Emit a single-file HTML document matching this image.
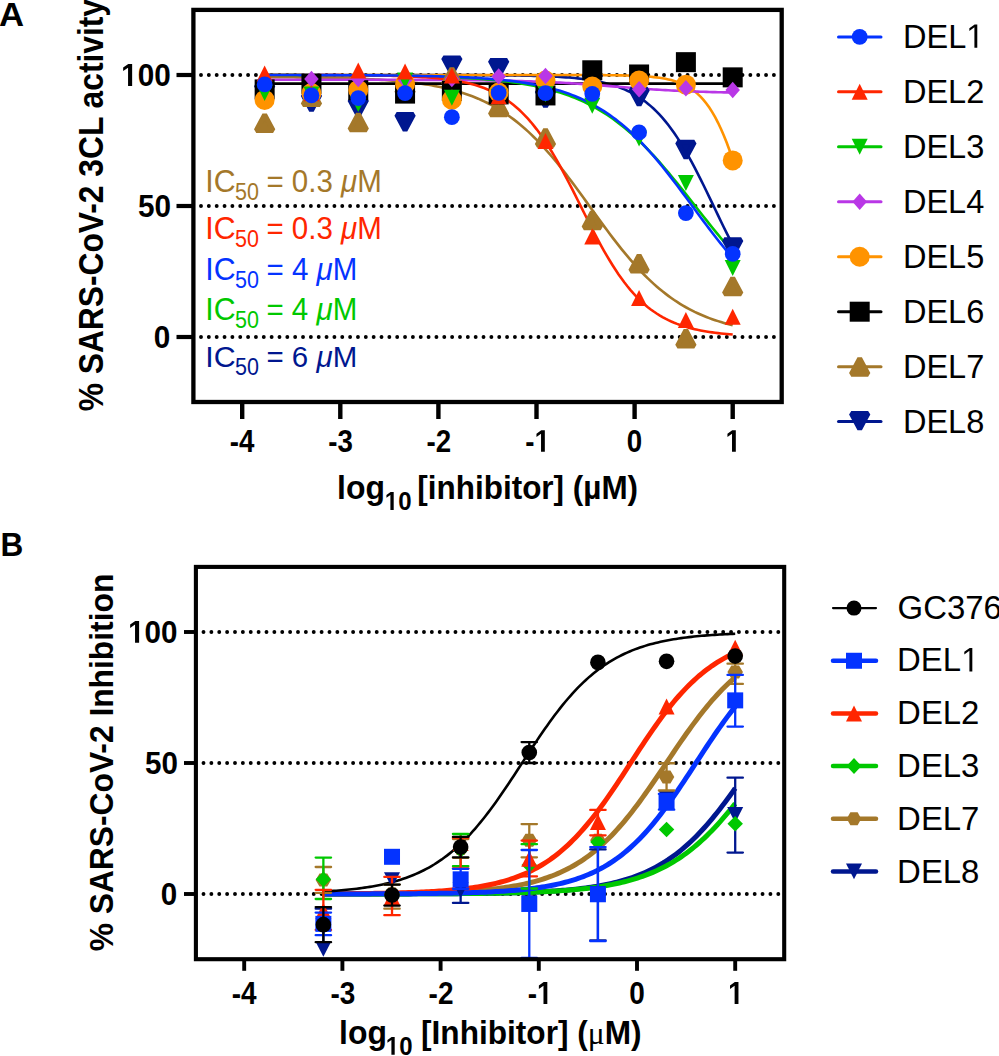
<!DOCTYPE html>
<html><head><meta charset="utf-8"><style>
html,body{margin:0;padding:0;background:#fff;}
body{width:999px;height:1056px;overflow:hidden;}
svg{display:block;}
</style></head><body>
<svg width="999" height="1056" viewBox="0 0 999 1056" font-family="'Liberation Sans', sans-serif">
<rect width="999" height="1056" fill="#fff"/>
<line x1="201" y1="75" x2="775" y2="75" stroke="#000" stroke-width="3.9" stroke-linecap="round" stroke-dasharray="0 7.848"/>
<line x1="201" y1="206" x2="775" y2="206" stroke="#000" stroke-width="3.9" stroke-linecap="round" stroke-dasharray="0 7.848"/>
<line x1="201" y1="337" x2="775" y2="337" stroke="#000" stroke-width="3.9" stroke-linecap="round" stroke-dasharray="0 7.848"/>
<path d="M264.65,75 L267.57,75 L270.5,75 L273.42,75 L276.35,75 L279.27,75 L282.2,75 L285.12,75 L288.05,75 L290.97,75 L293.9,75 L296.82,75 L299.75,75 L302.67,75 L305.6,75 L308.53,75 L311.45,75 L314.38,75 L317.3,75 L320.23,75 L323.15,75 L326.08,75 L329,75 L331.93,75 L334.85,75 L337.78,75 L340.7,75 L343.63,75 L346.55,75 L349.48,75 L352.41,75 L355.33,75 L358.26,75 L361.18,75 L364.11,75 L367.03,75 L369.96,75 L372.88,75 L375.81,75.01 L378.73,75.01 L381.66,75.01 L384.58,75.01 L387.51,75.01 L390.43,75.01 L393.36,75.01 L396.29,75.01 L399.21,75.01 L402.14,75.01 L405.06,75.01 L407.99,75.02 L410.91,75.02 L413.84,75.02 L416.76,75.02 L419.69,75.02 L422.61,75.02 L425.54,75.03 L428.46,75.03 L431.39,75.03 L434.32,75.04 L437.24,75.04 L440.17,75.04 L443.09,75.05 L446.02,75.05 L448.94,75.06 L451.87,75.06 L454.79,75.07 L457.72,75.07 L460.64,75.08 L463.57,75.09 L466.49,75.1 L469.42,75.11 L472.34,75.12 L475.27,75.13 L478.2,75.14 L481.12,75.16 L484.05,75.17 L486.97,75.19 L489.9,75.21 L492.82,75.23 L495.75,75.25 L498.67,75.27 L501.6,75.3 L504.52,75.33 L507.45,75.36 L510.37,75.4 L513.3,75.44 L516.22,75.48 L519.15,75.53 L522.08,75.58 L525,75.64 L527.93,75.7 L530.85,75.77 L533.78,75.84 L536.7,75.92 L539.63,76.01 L542.55,76.11 L545.48,76.22 L548.4,76.34 L551.33,76.47 L554.25,76.61 L557.18,76.77 L560.1,76.94 L563.03,77.13 L565.96,77.33 L568.88,77.56 L571.81,77.81 L574.73,78.08 L577.66,78.38 L580.58,78.7 L583.51,79.06 L586.43,79.45 L589.36,79.88 L592.28,80.34 L595.21,80.86 L598.13,81.41 L601.06,82.03 L603.98,82.69 L606.91,83.42 L609.84,84.22 L612.76,85.09 L615.69,86.03 L618.61,87.06 L621.54,88.18 L624.46,89.4 L627.39,90.73 L630.31,92.16 L633.24,93.72 L636.16,95.41 L639.09,97.24 L642.01,99.22 L644.94,101.35 L647.87,103.65 L650.79,106.12 L653.72,108.77 L656.64,111.62 L659.57,114.66 L662.49,117.9 L665.42,121.36 L668.34,125.03 L671.27,128.92 L674.19,133.03 L677.12,137.36 L680.04,141.9 L682.97,146.66 L685.89,151.62 L688.82,156.78 L691.75,162.13 L694.67,167.64 L697.6,173.3 L700.52,179.1 L703.45,185.01 L706.37,191.01 L709.3,197.08 L712.22,203.18 L715.15,209.3 L718.07,215.4 L721,221.46 L723.92,227.45 L726.85,233.36 L729.77,239.15 L732.7,244.8" fill="none" stroke="#00178f" stroke-width="2.6"/>
<path d="M264.65,77.08 L267.57,77.1 L270.5,77.12 L273.42,77.13 L276.35,77.15 L279.27,77.17 L282.2,77.2 L285.12,77.22 L288.05,77.24 L290.97,77.27 L293.9,77.3 L296.82,77.33 L299.75,77.36 L302.67,77.39 L305.6,77.43 L308.53,77.47 L311.45,77.51 L314.38,77.55 L317.3,77.6 L320.23,77.65 L323.15,77.7 L326.08,77.76 L329,77.82 L331.93,77.88 L334.85,77.95 L337.78,78.02 L340.7,78.09 L343.63,78.17 L346.55,78.26 L349.48,78.35 L352.41,78.45 L355.33,78.55 L358.26,78.66 L361.18,78.78 L364.11,78.9 L367.03,79.04 L369.96,79.18 L372.88,79.33 L375.81,79.48 L378.73,79.65 L381.66,79.83 L384.58,80.02 L387.51,80.23 L390.43,80.44 L393.36,80.67 L396.29,80.92 L399.21,81.17 L402.14,81.45 L405.06,81.74 L407.99,82.05 L410.91,82.38 L413.84,82.73 L416.76,83.1 L419.69,83.5 L422.61,83.91 L425.54,84.36 L428.46,84.83 L431.39,85.32 L434.32,85.85 L437.24,86.41 L440.17,87.01 L443.09,87.64 L446.02,88.3 L448.94,89.01 L451.87,89.75 L454.79,90.54 L457.72,91.38 L460.64,92.26 L463.57,93.19 L466.49,94.17 L469.42,95.21 L472.34,96.31 L475.27,97.47 L478.2,98.68 L481.12,99.97 L484.05,101.32 L486.97,102.74 L489.9,104.23 L492.82,105.8 L495.75,107.45 L498.67,109.18 L501.6,110.99 L504.52,112.89 L507.45,114.87 L510.37,116.95 L513.3,119.12 L516.22,121.38 L519.15,123.73 L522.08,126.18 L525,128.73 L527.93,131.37 L530.85,134.11 L533.78,136.95 L536.7,139.89 L539.63,142.92 L542.55,146.05 L545.48,149.27 L548.4,152.58 L551.33,155.98 L554.25,159.46 L557.18,163.02 L560.1,166.66 L563.03,170.37 L565.96,174.15 L568.88,177.98 L571.81,181.87 L574.73,185.81 L577.66,189.78 L580.58,193.79 L583.51,197.83 L586.43,201.88 L589.36,205.94 L592.28,210 L595.21,214.06 L598.13,218.1 L601.06,222.12 L603.98,226.12 L606.91,230.07 L609.84,233.99 L612.76,237.85 L615.69,241.65 L618.61,245.39 L621.54,249.07 L624.46,252.67 L627.39,256.19 L630.31,259.63 L633.24,262.98 L636.16,266.24 L639.09,269.42 L642.01,272.5 L644.94,275.48 L647.87,278.37 L650.79,281.15 L653.72,283.85 L656.64,286.44 L659.57,288.94 L662.49,291.34 L665.42,293.64 L668.34,295.85 L671.27,297.97 L674.19,300 L677.12,301.94 L680.04,303.79 L682.97,305.56 L685.89,307.25 L688.82,308.85 L691.75,310.38 L694.67,311.84 L697.6,313.22 L700.52,314.54 L703.45,315.79 L706.37,316.98 L709.3,318.1 L712.22,319.17 L715.15,320.18 L718.07,321.13 L721,322.04 L723.92,322.9 L726.85,323.71 L729.77,324.47 L732.7,325.2" fill="none" stroke="#a4782a" stroke-width="2.6"/>
<path d="M264.65,83.65 L267.57,83.65 L270.5,83.65 L273.42,83.65 L276.35,83.65 L279.27,83.65 L282.2,83.65 L285.12,83.65 L288.05,83.65 L290.97,83.65 L293.9,83.65 L296.82,83.65 L299.75,83.65 L302.67,83.65 L305.6,83.65 L308.53,83.65 L311.45,83.65 L314.38,83.65 L317.3,83.65 L320.23,83.65 L323.15,83.65 L326.08,83.65 L329,83.65 L331.93,83.65 L334.85,83.65 L337.78,83.65 L340.7,83.65 L343.63,83.65 L346.55,83.65 L349.48,83.65 L352.41,83.65 L355.33,83.65 L358.26,83.65 L361.18,83.65 L364.11,83.65 L367.03,83.65 L369.96,83.65 L372.88,83.65 L375.81,83.65 L378.73,83.65 L381.66,83.65 L384.58,83.65 L387.51,83.65 L390.43,83.65 L393.36,83.65 L396.29,83.65 L399.21,83.65 L402.14,83.65 L405.06,83.65 L407.99,83.65 L410.91,83.65 L413.84,83.65 L416.76,83.65 L419.69,83.65 L422.61,83.65 L425.54,83.65 L428.46,83.65 L431.39,83.65 L434.32,83.65 L437.24,83.65 L440.17,83.65 L443.09,83.65 L446.02,83.65 L448.94,83.65 L451.87,83.65 L454.79,83.65 L457.72,83.65 L460.64,83.65 L463.57,83.65 L466.49,83.65 L469.42,83.65 L472.34,83.65 L475.27,83.65 L478.2,83.65 L481.12,83.65 L484.05,83.65 L486.97,83.65 L489.9,83.65 L492.82,83.65 L495.75,83.65 L498.67,83.65 L501.6,83.65 L504.52,83.65 L507.45,83.65 L510.37,83.65 L513.3,83.65 L516.22,83.65 L519.15,83.65 L522.08,83.65 L525,83.65 L527.93,83.65 L530.85,83.65 L533.78,83.65 L536.7,83.65 L539.63,83.65 L542.55,83.65 L545.48,83.65 L548.4,83.65 L551.33,83.65 L554.25,83.65 L557.18,83.65 L560.1,83.65 L563.03,83.65 L565.96,83.65 L568.88,83.65 L571.81,83.65 L574.73,83.65 L577.66,83.65 L580.58,83.65 L583.51,83.65 L586.43,83.65 L589.36,83.65 L592.28,83.65 L595.21,83.65 L598.13,83.65 L601.06,83.65 L603.98,83.65 L606.91,83.65 L609.84,83.65 L612.76,83.65 L615.69,83.65 L618.61,83.65 L621.54,83.65 L624.46,83.65 L627.39,83.65 L630.31,83.65 L633.24,83.65 L636.16,83.65 L639.09,83.65 L642.01,83.65 L644.94,83.65 L647.87,83.65 L650.79,83.65 L653.72,83.65 L656.64,83.65 L659.57,83.65 L662.49,83.65 L665.42,83.65 L668.34,83.65 L671.27,83.65 L674.19,83.65 L677.12,83.65 L680.04,83.65 L682.97,83.65 L685.89,83.65 L688.82,83.65 L691.75,83.65 L694.67,83.65 L697.6,83.65 L700.52,83.65 L703.45,83.65 L706.37,83.65 L709.3,83.65 L712.22,83.65 L715.15,83.65 L718.07,83.65 L721,83.65 L723.92,83.65 L726.85,83.65 L729.77,83.65 L732.7,83.65" fill="none" stroke="#000000" stroke-width="2.6"/>
<path d="M264.65,75 L267.57,75 L270.5,75 L273.42,75 L276.35,75 L279.27,75 L282.2,75 L285.12,75 L288.05,75 L290.97,75 L293.9,75 L296.82,75 L299.75,75 L302.67,75 L305.6,75 L308.53,75 L311.45,75 L314.38,75 L317.3,75 L320.23,75 L323.15,75 L326.08,75 L329,75 L331.93,75 L334.85,75 L337.78,75 L340.7,75 L343.63,75 L346.55,75 L349.48,75 L352.41,75 L355.33,75 L358.26,75 L361.18,75 L364.11,75 L367.03,75 L369.96,75 L372.88,75 L375.81,75 L378.73,75 L381.66,75 L384.58,75 L387.51,75 L390.43,75 L393.36,75 L396.29,75 L399.21,75 L402.14,75 L405.06,75 L407.99,75 L410.91,75 L413.84,75 L416.76,75 L419.69,75 L422.61,75 L425.54,75 L428.46,75 L431.39,75 L434.32,75 L437.24,75 L440.17,75 L443.09,75 L446.02,75 L448.94,75 L451.87,75 L454.79,75 L457.72,75 L460.64,75 L463.57,75 L466.49,75 L469.42,75 L472.34,75 L475.27,75 L478.2,75 L481.12,75 L484.05,75 L486.97,75 L489.9,75 L492.82,75 L495.75,75 L498.67,75 L501.6,75 L504.52,75 L507.45,75 L510.37,75 L513.3,75 L516.22,75 L519.15,75 L522.08,75 L525,75 L527.93,75 L530.85,75 L533.78,75 L536.7,75.01 L539.63,75.01 L542.55,75.01 L545.48,75.01 L548.4,75.01 L551.33,75.01 L554.25,75.01 L557.18,75.01 L560.1,75.02 L563.03,75.02 L565.96,75.02 L568.88,75.03 L571.81,75.03 L574.73,75.04 L577.66,75.04 L580.58,75.05 L583.51,75.06 L586.43,75.07 L589.36,75.08 L592.28,75.09 L595.21,75.1 L598.13,75.12 L601.06,75.14 L603.98,75.16 L606.91,75.19 L609.84,75.22 L612.76,75.25 L615.69,75.3 L618.61,75.34 L621.54,75.4 L624.46,75.46 L627.39,75.54 L630.31,75.63 L633.24,75.73 L636.16,75.85 L639.09,75.99 L642.01,76.15 L644.94,76.33 L647.87,76.55 L650.79,76.8 L653.72,77.09 L656.64,77.43 L659.57,77.82 L662.49,78.27 L665.42,78.8 L668.34,79.41 L671.27,80.11 L674.19,80.93 L677.12,81.87 L680.04,82.95 L682.97,84.21 L685.89,85.65 L688.82,87.3 L691.75,89.2 L694.67,91.37 L697.6,93.85 L700.52,96.67 L703.45,99.86 L706.37,103.48 L709.3,107.54 L712.22,112.1 L715.15,117.17 L718.07,122.8 L721,128.99 L723.92,135.75 L726.85,143.08 L729.77,150.96 L732.7,159.36" fill="none" stroke="#ff9300" stroke-width="2.6"/>
<path d="M264.65,79.72 L267.57,79.72 L270.5,79.72 L273.42,79.72 L276.35,79.72 L279.27,79.72 L282.2,79.72 L285.12,79.72 L288.05,79.72 L290.97,79.72 L293.9,79.72 L296.82,79.72 L299.75,79.72 L302.67,79.72 L305.6,79.73 L308.53,79.73 L311.45,79.73 L314.38,79.73 L317.3,79.73 L320.23,79.73 L323.15,79.73 L326.08,79.73 L329,79.73 L331.93,79.73 L334.85,79.73 L337.78,79.74 L340.7,79.74 L343.63,79.74 L346.55,79.74 L349.48,79.74 L352.41,79.74 L355.33,79.75 L358.26,79.75 L361.18,79.75 L364.11,79.75 L367.03,79.76 L369.96,79.76 L372.88,79.76 L375.81,79.77 L378.73,79.77 L381.66,79.77 L384.58,79.78 L387.51,79.78 L390.43,79.79 L393.36,79.79 L396.29,79.8 L399.21,79.8 L402.14,79.81 L405.06,79.81 L407.99,79.82 L410.91,79.83 L413.84,79.84 L416.76,79.84 L419.69,79.85 L422.61,79.86 L425.54,79.87 L428.46,79.88 L431.39,79.9 L434.32,79.91 L437.24,79.92 L440.17,79.94 L443.09,79.95 L446.02,79.97 L448.94,79.99 L451.87,80.01 L454.79,80.03 L457.72,80.05 L460.64,80.07 L463.57,80.09 L466.49,80.12 L469.42,80.15 L472.34,80.18 L475.27,80.21 L478.2,80.24 L481.12,80.28 L484.05,80.32 L486.97,80.36 L489.9,80.4 L492.82,80.45 L495.75,80.5 L498.67,80.55 L501.6,80.61 L504.52,80.66 L507.45,80.73 L510.37,80.79 L513.3,80.86 L516.22,80.94 L519.15,81.02 L522.08,81.1 L525,81.19 L527.93,81.28 L530.85,81.38 L533.78,81.48 L536.7,81.59 L539.63,81.7 L542.55,81.82 L545.48,81.95 L548.4,82.08 L551.33,82.21 L554.25,82.36 L557.18,82.51 L560.1,82.66 L563.03,82.82 L565.96,82.99 L568.88,83.16 L571.81,83.34 L574.73,83.53 L577.66,83.72 L580.58,83.92 L583.51,84.12 L586.43,84.33 L589.36,84.54 L592.28,84.76 L595.21,84.98 L598.13,85.2 L601.06,85.42 L603.98,85.65 L606.91,85.88 L609.84,86.12 L612.76,86.35 L615.69,86.58 L618.61,86.82 L621.54,87.05 L624.46,87.28 L627.39,87.51 L630.31,87.74 L633.24,87.97 L636.16,88.19 L639.09,88.41 L642.01,88.62 L644.94,88.83 L647.87,89.03 L650.79,89.23 L653.72,89.43 L656.64,89.62 L659.57,89.8 L662.49,89.98 L665.42,90.15 L668.34,90.31 L671.27,90.47 L674.19,90.62 L677.12,90.77 L680.04,90.91 L682.97,91.04 L685.89,91.17 L688.82,91.29 L691.75,91.41 L694.67,91.52 L697.6,91.63 L700.52,91.73 L703.45,91.82 L706.37,91.91 L709.3,92 L712.22,92.08 L715.15,92.16 L718.07,92.23 L721,92.3 L723.92,92.36 L726.85,92.42 L729.77,92.48 L732.7,92.53" fill="none" stroke="#b937e6" stroke-width="2.6"/>
<path d="M264.65,75.06 L267.57,75.06 L270.5,75.07 L273.42,75.07 L276.35,75.07 L279.27,75.08 L282.2,75.08 L285.12,75.09 L288.05,75.09 L290.97,75.1 L293.9,75.11 L296.82,75.11 L299.75,75.12 L302.67,75.12 L305.6,75.13 L308.53,75.14 L311.45,75.15 L314.38,75.16 L317.3,75.17 L320.23,75.18 L323.15,75.19 L326.08,75.2 L329,75.21 L331.93,75.22 L334.85,75.23 L337.78,75.25 L340.7,75.26 L343.63,75.28 L346.55,75.29 L349.48,75.31 L352.41,75.33 L355.33,75.35 L358.26,75.37 L361.18,75.39 L364.11,75.41 L367.03,75.44 L369.96,75.46 L372.88,75.49 L375.81,75.52 L378.73,75.55 L381.66,75.58 L384.58,75.62 L387.51,75.65 L390.43,75.69 L393.36,75.73 L396.29,75.77 L399.21,75.82 L402.14,75.87 L405.06,75.92 L407.99,75.97 L410.91,76.03 L413.84,76.09 L416.76,76.15 L419.69,76.22 L422.61,76.29 L425.54,76.36 L428.46,76.44 L431.39,76.53 L434.32,76.61 L437.24,76.71 L440.17,76.81 L443.09,76.91 L446.02,77.03 L448.94,77.14 L451.87,77.27 L454.79,77.4 L457.72,77.54 L460.64,77.69 L463.57,77.84 L466.49,78.01 L469.42,78.18 L472.34,78.36 L475.27,78.56 L478.2,78.77 L481.12,78.98 L484.05,79.21 L486.97,79.46 L489.9,79.71 L492.82,79.98 L495.75,80.27 L498.67,80.57 L501.6,80.89 L504.52,81.23 L507.45,81.58 L510.37,81.96 L513.3,82.36 L516.22,82.78 L519.15,83.22 L522.08,83.68 L525,84.17 L527.93,84.69 L530.85,85.24 L533.78,85.81 L536.7,86.42 L539.63,87.06 L542.55,87.73 L545.48,88.44 L548.4,89.19 L551.33,89.97 L554.25,90.8 L557.18,91.66 L560.1,92.58 L563.03,93.53 L565.96,94.54 L568.88,95.6 L571.81,96.7 L574.73,97.86 L577.66,99.08 L580.58,100.36 L583.51,101.69 L586.43,103.09 L589.36,104.55 L592.28,106.08 L595.21,107.68 L598.13,109.34 L601.06,111.08 L603.98,112.89 L606.91,114.77 L609.84,116.73 L612.76,118.77 L615.69,120.89 L618.61,123.09 L621.54,125.36 L624.46,127.72 L627.39,130.16 L630.31,132.69 L633.24,135.29 L636.16,137.98 L639.09,140.74 L642.01,143.59 L644.94,146.52 L647.87,149.52 L650.79,152.59 L653.72,155.74 L656.64,158.96 L659.57,162.24 L662.49,165.59 L665.42,169 L668.34,172.46 L671.27,175.97 L674.19,179.53 L677.12,183.13 L680.04,186.77 L682.97,190.43 L685.89,194.13 L688.82,197.84 L691.75,201.56 L694.67,205.29 L697.6,209.02 L700.52,212.75 L703.45,216.47 L706.37,220.17 L709.3,223.84 L712.22,227.49 L715.15,231.11 L718.07,234.68 L721,238.21 L723.92,241.7 L726.85,245.12 L729.77,248.49 L732.7,251.8" fill="none" stroke="#00c800" stroke-width="2.6"/>
<path d="M264.65,75.02 L267.57,75.02 L270.5,75.02 L273.42,75.02 L276.35,75.02 L279.27,75.03 L282.2,75.03 L285.12,75.03 L288.05,75.03 L290.97,75.04 L293.9,75.04 L296.82,75.05 L299.75,75.05 L302.67,75.05 L305.6,75.06 L308.53,75.06 L311.45,75.07 L314.38,75.08 L317.3,75.08 L320.23,75.09 L323.15,75.1 L326.08,75.11 L329,75.12 L331.93,75.13 L334.85,75.14 L337.78,75.16 L340.7,75.17 L343.63,75.19 L346.55,75.21 L349.48,75.23 L352.41,75.25 L355.33,75.27 L358.26,75.3 L361.18,75.32 L364.11,75.35 L367.03,75.39 L369.96,75.42 L372.88,75.46 L375.81,75.5 L378.73,75.55 L381.66,75.6 L384.58,75.66 L387.51,75.72 L390.43,75.79 L393.36,75.86 L396.29,75.94 L399.21,76.03 L402.14,76.12 L405.06,76.23 L407.99,76.34 L410.91,76.47 L413.84,76.6 L416.76,76.75 L419.69,76.91 L422.61,77.09 L425.54,77.29 L428.46,77.5 L431.39,77.73 L434.32,77.98 L437.24,78.25 L440.17,78.55 L443.09,78.88 L446.02,79.24 L448.94,79.63 L451.87,80.05 L454.79,80.51 L457.72,81.01 L460.64,81.56 L463.57,82.16 L466.49,82.81 L469.42,83.51 L472.34,84.28 L475.27,85.11 L478.2,86.02 L481.12,87 L484.05,88.06 L486.97,89.21 L489.9,90.46 L492.82,91.81 L495.75,93.27 L498.67,94.85 L501.6,96.55 L504.52,98.39 L507.45,100.36 L510.37,102.48 L513.3,104.75 L516.22,107.19 L519.15,109.79 L522.08,112.58 L525,115.54 L527.93,118.7 L530.85,122.04 L533.78,125.59 L536.7,129.33 L539.63,133.28 L542.55,137.42 L545.48,141.76 L548.4,146.3 L551.33,151.03 L554.25,155.93 L557.18,161.01 L560.1,166.24 L563.03,171.62 L565.96,177.12 L568.88,182.74 L571.81,188.44 L574.73,194.21 L577.66,200.03 L580.58,205.87 L583.51,211.72 L586.43,217.54 L589.36,223.31 L592.28,229.02 L595.21,234.64 L598.13,240.15 L601.06,245.53 L603.98,250.77 L606.91,255.85 L609.84,260.77 L612.76,265.5 L615.69,270.05 L618.61,274.4 L621.54,278.55 L624.46,282.5 L627.39,286.26 L630.31,289.81 L633.24,293.16 L636.16,296.33 L639.09,299.3 L642.01,302.09 L644.94,304.7 L647.87,307.15 L650.79,309.43 L653.72,311.55 L656.64,313.53 L659.57,315.37 L662.49,317.08 L665.42,318.66 L668.34,320.13 L671.27,321.48 L674.19,322.73 L677.12,323.89 L680.04,324.96 L682.97,325.94 L685.89,326.85 L688.82,327.69 L691.75,328.46 L694.67,329.16 L697.6,329.82 L700.52,330.41 L703.45,330.96 L706.37,331.47 L709.3,331.93 L712.22,332.36 L715.15,332.75 L718.07,333.1 L721,333.43 L723.92,333.73 L726.85,334.01 L729.77,334.26 L732.7,334.49" fill="none" stroke="#ff2600" stroke-width="2.6"/>
<path d="M264.65,75.04 L267.57,75.04 L270.5,75.04 L273.42,75.04 L276.35,75.05 L279.27,75.05 L282.2,75.05 L285.12,75.06 L288.05,75.06 L290.97,75.06 L293.9,75.07 L296.82,75.07 L299.75,75.08 L302.67,75.08 L305.6,75.09 L308.53,75.09 L311.45,75.1 L314.38,75.1 L317.3,75.11 L320.23,75.12 L323.15,75.12 L326.08,75.13 L329,75.14 L331.93,75.15 L334.85,75.16 L337.78,75.17 L340.7,75.18 L343.63,75.19 L346.55,75.2 L349.48,75.21 L352.41,75.23 L355.33,75.24 L358.26,75.26 L361.18,75.27 L364.11,75.29 L367.03,75.31 L369.96,75.33 L372.88,75.35 L375.81,75.37 L378.73,75.39 L381.66,75.42 L384.58,75.44 L387.51,75.47 L390.43,75.5 L393.36,75.53 L396.29,75.56 L399.21,75.6 L402.14,75.63 L405.06,75.67 L407.99,75.72 L410.91,75.76 L413.84,75.81 L416.76,75.86 L419.69,75.91 L422.61,75.97 L425.54,76.03 L428.46,76.09 L431.39,76.16 L434.32,76.23 L437.24,76.31 L440.17,76.39 L443.09,76.48 L446.02,76.57 L448.94,76.67 L451.87,76.77 L454.79,76.88 L457.72,77 L460.64,77.13 L463.57,77.26 L466.49,77.4 L469.42,77.55 L472.34,77.7 L475.27,77.87 L478.2,78.05 L481.12,78.24 L484.05,78.44 L486.97,78.65 L489.9,78.87 L492.82,79.11 L495.75,79.36 L498.67,79.63 L501.6,79.92 L504.52,80.22 L507.45,80.54 L510.37,80.88 L513.3,81.24 L516.22,81.62 L519.15,82.02 L522.08,82.45 L525,82.9 L527.93,83.38 L530.85,83.88 L533.78,84.42 L536.7,84.99 L539.63,85.59 L542.55,86.22 L545.48,86.89 L548.4,87.6 L551.33,88.35 L554.25,89.14 L557.18,89.97 L560.1,90.85 L563.03,91.78 L565.96,92.76 L568.88,93.79 L571.81,94.88 L574.73,96.02 L577.66,97.23 L580.58,98.49 L583.51,99.82 L586.43,101.22 L589.36,102.69 L592.28,104.23 L595.21,105.84 L598.13,107.53 L601.06,109.3 L603.98,111.15 L606.91,113.09 L609.84,115.11 L612.76,117.21 L615.69,119.4 L618.61,121.69 L621.54,124.06 L624.46,126.53 L627.39,129.09 L630.31,131.74 L633.24,134.48 L636.16,137.32 L639.09,140.25 L642.01,143.27 L644.94,146.38 L647.87,149.57 L650.79,152.85 L653.72,156.21 L656.64,159.65 L659.57,163.17 L662.49,166.75 L665.42,170.4 L668.34,174.12 L671.27,177.88 L674.19,181.7 L677.12,185.56 L680.04,189.46 L682.97,193.38 L685.89,197.33 L688.82,201.3 L691.75,205.27 L694.67,209.24 L697.6,213.21 L700.52,217.17 L703.45,221.1 L706.37,225.01 L709.3,228.89 L712.22,232.72 L715.15,236.51 L718.07,240.24 L721,243.91 L723.92,247.52 L726.85,251.06 L729.77,254.53 L732.7,257.92" fill="none" stroke="#0433ff" stroke-width="2.6"/>
<polygon points="256.22,85.17 273.07,85.17 264.65,100.92" fill="#00178f" stroke="#00178f" stroke-width="5" stroke-linejoin="bevel"/>
<polygon points="303.03,94.86 319.88,94.86 311.45,110.61" fill="#00178f" stroke="#00178f" stroke-width="5" stroke-linejoin="bevel"/>
<polygon points="349.83,99.84 366.68,99.84 358.26,115.59" fill="#00178f" stroke="#00178f" stroke-width="5" stroke-linejoin="bevel"/>
<polygon points="396.64,114.51 413.49,114.51 405.06,130.26" fill="#00178f" stroke="#00178f" stroke-width="5" stroke-linejoin="bevel"/>
<polygon points="443.44,57.92 460.29,57.92 451.87,73.67" fill="#00178f" stroke="#00178f" stroke-width="5" stroke-linejoin="bevel"/>
<polygon points="490.25,60.54 507.1,60.54 498.67,76.29" fill="#00178f" stroke="#00178f" stroke-width="5" stroke-linejoin="bevel"/>
<polygon points="537.05,90.93 553.9,90.93 545.48,106.68" fill="#00178f" stroke="#00178f" stroke-width="5" stroke-linejoin="bevel"/>
<polygon points="583.86,74.68 600.71,74.68 592.28,90.43" fill="#00178f" stroke="#00178f" stroke-width="5" stroke-linejoin="bevel"/>
<polygon points="630.66,89.36 647.51,89.36 639.09,105.11" fill="#00178f" stroke="#00178f" stroke-width="5" stroke-linejoin="bevel"/>
<polygon points="677.47,142.28 694.32,142.28 685.89,158.03" fill="#00178f" stroke="#00178f" stroke-width="5" stroke-linejoin="bevel"/>
<polygon points="724.28,239.75 741.12,239.75 732.7,255.5" fill="#00178f" stroke="#00178f" stroke-width="5" stroke-linejoin="bevel"/>
<polygon points="264.65,114.77 273.07,130.52 256.22,130.52" fill="#a4782a" stroke="#a4782a" stroke-width="5" stroke-linejoin="bevel"/>
<polygon points="311.45,88.83 319.88,104.58 303.03,104.58" fill="#a4782a" stroke="#a4782a" stroke-width="5" stroke-linejoin="bevel"/>
<polygon points="358.26,113.98 366.68,129.74 349.83,129.74" fill="#a4782a" stroke="#a4782a" stroke-width="5" stroke-linejoin="bevel"/>
<polygon points="405.06,77.3 413.49,93.05 396.64,93.05" fill="#a4782a" stroke="#a4782a" stroke-width="5" stroke-linejoin="bevel"/>
<polygon points="451.87,68.4 460.29,84.15 443.44,84.15" fill="#a4782a" stroke="#a4782a" stroke-width="5" stroke-linejoin="bevel"/>
<polygon points="498.67,99.05 507.1,114.8 490.25,114.8" fill="#a4782a" stroke="#a4782a" stroke-width="5" stroke-linejoin="bevel"/>
<polygon points="545.48,129.44 553.9,145.19 537.05,145.19" fill="#a4782a" stroke="#a4782a" stroke-width="5" stroke-linejoin="bevel"/>
<polygon points="592.28,211.97 600.71,227.72 583.86,227.72" fill="#a4782a" stroke="#a4782a" stroke-width="5" stroke-linejoin="bevel"/>
<polygon points="639.09,255.2 647.51,270.95 630.66,270.95" fill="#a4782a" stroke="#a4782a" stroke-width="5" stroke-linejoin="bevel"/>
<polygon points="685.89,330.13 694.32,345.88 677.47,345.88" fill="#a4782a" stroke="#a4782a" stroke-width="5" stroke-linejoin="bevel"/>
<polygon points="732.7,278 741.12,293.75 724.28,293.75" fill="#a4782a" stroke="#a4782a" stroke-width="5" stroke-linejoin="bevel"/>
<rect x="254.65" y="79.41" width="20" height="20" fill="#000000"/>
<rect x="301.45" y="73.91" width="20" height="20" fill="#000000"/>
<rect x="348.26" y="80.2" width="20" height="20" fill="#000000"/>
<rect x="395.06" y="83.6" width="20" height="20" fill="#000000"/>
<rect x="441.87" y="80.98" width="20" height="20" fill="#000000"/>
<rect x="488.67" y="84.39" width="20" height="20" fill="#000000"/>
<rect x="535.48" y="85.44" width="20" height="20" fill="#000000"/>
<rect x="582.28" y="60.28" width="20" height="20" fill="#000000"/>
<rect x="629.09" y="64.48" width="20" height="20" fill="#000000"/>
<rect x="675.89" y="52.16" width="20" height="20" fill="#000000"/>
<rect x="722.7" y="67.36" width="20" height="20" fill="#000000"/>
<circle cx="264.65" cy="99.89" r="10" fill="#ff9300"/>
<circle cx="311.45" cy="93.08" r="10" fill="#ff9300"/>
<circle cx="358.26" cy="89.93" r="10" fill="#ff9300"/>
<circle cx="405.06" cy="83.91" r="10" fill="#ff9300"/>
<circle cx="451.87" cy="99.63" r="10" fill="#ff9300"/>
<circle cx="498.67" cy="92.55" r="10" fill="#ff9300"/>
<circle cx="545.48" cy="80.5" r="10" fill="#ff9300"/>
<circle cx="592.28" cy="86.53" r="10" fill="#ff9300"/>
<circle cx="639.09" cy="80.5" r="10" fill="#ff9300"/>
<circle cx="685.89" cy="84.69" r="10" fill="#ff9300"/>
<circle cx="732.7" cy="160.41" r="10" fill="#ff9300"/>
<polygon points="264.65,71.99 271.9,80.24 264.65,88.49 257.4,80.24" fill="#b937e6"/>
<polygon points="311.45,70.68 318.7,78.93 311.45,87.18 304.2,78.93" fill="#b937e6"/>
<polygon points="358.26,70.68 365.51,78.93 358.26,87.18 351.01,78.93" fill="#b937e6"/>
<polygon points="405.06,71.99 412.31,80.24 405.06,88.49 397.81,80.24" fill="#b937e6"/>
<polygon points="451.87,70.68 459.12,78.93 451.87,87.18 444.62,78.93" fill="#b937e6"/>
<polygon points="498.67,68.32 505.92,76.57 498.67,84.82 491.42,76.57" fill="#b937e6"/>
<polygon points="545.48,67.8 552.73,76.05 545.48,84.3 538.23,76.05" fill="#b937e6"/>
<polygon points="592.28,90.33 599.53,98.58 592.28,106.83 585.03,98.58" fill="#b937e6"/>
<polygon points="639.09,80.9 646.34,89.15 639.09,97.4 631.84,89.15" fill="#b937e6"/>
<polygon points="685.89,80.11 693.14,88.36 685.89,96.61 678.64,88.36" fill="#b937e6"/>
<polygon points="732.7,81.68 739.95,89.93 732.7,98.18 725.45,89.93" fill="#b937e6"/>
<polygon points="256.65,85.08 272.65,85.08 264.65,101.08" fill="#00c800"/>
<polygon points="303.45,86.39 319.45,86.39 311.45,102.39" fill="#00c800"/>
<polygon points="350.26,96.08 366.26,96.08 358.26,112.08" fill="#00c800"/>
<polygon points="397.06,72.5 413.06,72.5 405.06,88.5" fill="#00c800"/>
<polygon points="443.87,89.79 459.87,89.79 451.87,105.79" fill="#00c800"/>
<polygon points="490.67,88.75 506.67,88.75 498.67,104.75" fill="#00c800"/>
<polygon points="537.48,86.13 553.48,86.13 545.48,102.13" fill="#00c800"/>
<polygon points="584.28,97.65 600.28,97.65 592.28,113.65" fill="#00c800"/>
<polygon points="631.09,130.4 647.09,130.4 639.09,146.4" fill="#00c800"/>
<polygon points="677.89,174.94 693.89,174.94 685.89,190.94" fill="#00c800"/>
<polygon points="724.7,260.09 740.7,260.09 732.7,276.09" fill="#00c800"/>
<polygon points="264.65,65.43 272.65,81.43 256.65,81.43" fill="#ff2600"/>
<polygon points="311.45,85.34 319.45,101.34 303.45,101.34" fill="#ff2600"/>
<polygon points="358.26,62.55 366.26,78.55 350.26,78.55" fill="#ff2600"/>
<polygon points="405.06,63.59 413.06,79.59 397.06,79.59" fill="#ff2600"/>
<polygon points="451.87,67.52 459.87,83.52 443.87,83.52" fill="#ff2600"/>
<polygon points="498.67,88.22 506.67,104.22 490.67,104.22" fill="#ff2600"/>
<polygon points="545.48,133.02 553.48,149.02 537.48,149.02" fill="#ff2600"/>
<polygon points="592.28,228.39 600.28,244.39 584.28,244.39" fill="#ff2600"/>
<polygon points="639.09,289.96 647.09,305.96 631.09,305.96" fill="#ff2600"/>
<polygon points="685.89,311.97 693.89,327.97 677.89,327.97" fill="#ff2600"/>
<polygon points="732.7,308.83 740.7,324.83 724.7,324.83" fill="#ff2600"/>
<circle cx="264.65" cy="84.43" r="7.9" fill="#0433ff"/>
<circle cx="311.45" cy="95.44" r="7.9" fill="#0433ff"/>
<circle cx="358.26" cy="98.06" r="7.9" fill="#0433ff"/>
<circle cx="405.06" cy="93.08" r="7.9" fill="#0433ff"/>
<circle cx="451.87" cy="117.18" r="7.9" fill="#0433ff"/>
<circle cx="498.67" cy="92.82" r="7.9" fill="#0433ff"/>
<circle cx="545.48" cy="93.08" r="7.9" fill="#0433ff"/>
<circle cx="592.28" cy="93.86" r="7.9" fill="#0433ff"/>
<circle cx="639.09" cy="132.38" r="7.9" fill="#0433ff"/>
<circle cx="685.89" cy="213.07" r="7.9" fill="#0433ff"/>
<circle cx="732.7" cy="253.95" r="7.9" fill="#0433ff"/>
<rect x="193.4" y="9.9" width="588.3" height="392.1" fill="none" stroke="#000" stroke-width="4.3"/>
<line x1="176.5" y1="75" x2="193.4" y2="75" stroke="#000" stroke-width="4.2"/>
<line x1="176.5" y1="206" x2="193.4" y2="206" stroke="#000" stroke-width="4.2"/>
<line x1="176.5" y1="337" x2="193.4" y2="337" stroke="#000" stroke-width="4.2"/>
<line x1="242.2" y1="402" x2="242.2" y2="419" stroke="#000" stroke-width="4.4"/>
<line x1="340.3" y1="402" x2="340.3" y2="419" stroke="#000" stroke-width="4.4"/>
<line x1="438.4" y1="402" x2="438.4" y2="419" stroke="#000" stroke-width="4.4"/>
<line x1="536.5" y1="402" x2="536.5" y2="419" stroke="#000" stroke-width="4.4"/>
<line x1="634.6" y1="402" x2="634.6" y2="419" stroke="#000" stroke-width="4.4"/>
<line x1="732.7" y1="402" x2="732.7" y2="419" stroke="#000" stroke-width="4.4"/>
<g transform="matrix(0.9915 0.0000 0.0000 1.0659 121.12 85.90)"><g ><text x="0.000 16.685 33.369" y="0" font-size="30" font-weight="bold"> 00</text><path transform="translate(0.000 0) scale(0.014648 -0.014648)" d="M478 0L478 1170L140 959L140 1180L493 1409L759 1409L759 0Z"/></g></g>
<g transform="matrix(0.9915 0.0000 0.0000 1.0659 137.97 216.90)"><text font-size="30" font-weight="bold" >50</text></g>
<g transform="matrix(0.9915 0.0000 0.0000 1.0659 153.84 347.90)"><text font-size="30" font-weight="bold" >0</text></g>
<g transform="matrix(0.9231 0.0000 0.0000 1.0465 229.78 451.80)"><text font-size="30" font-weight="bold" >-4</text></g>
<g transform="matrix(0.9231 0.0000 0.0000 1.0465 328.34 451.80)"><text font-size="30" font-weight="bold" >-3</text></g>
<g transform="matrix(0.9231 0.0000 0.0000 1.0465 426.44 451.80)"><text font-size="30" font-weight="bold" >-2</text></g>
<g transform="matrix(0.9231 0.0000 0.0000 1.0465 525.35 451.80)"><g ><text x="0.000 9.990" y="0" font-size="30" font-weight="bold">- </text><path transform="translate(9.990 0) scale(0.014648 -0.014648)" d="M478 0L478 1170L140 959L140 1180L493 1409L759 1409L759 0Z"/></g></g>
<g transform="matrix(0.9231 0.0000 0.0000 1.0465 626.75 451.80)"><text font-size="30" font-weight="bold" >0</text></g>
<g transform="matrix(0.9231 0.0000 0.0000 1.0465 725.55 451.80)"><g ><text x="0.000" y="0" font-size="30" font-weight="bold"> </text><path transform="translate(0.000 0) scale(0.014648 -0.014648)" d="M478 0L478 1170L140 959L140 1180L493 1409L759 1409L759 0Z"/></g></g>
<g transform="matrix(0.9977 0.0000 0.0000 1.0221 337.10 498.80)"><text font-size="32" font-weight="bold" >log</text></g>
<g transform="matrix(1.0000 0.0000 0.0000 1.0901 384.80 510.00)"><g ><text x="0.000 13.348" y="0" font-size="24" font-weight="bold"> 0</text><path transform="translate(0.000 0) scale(0.011719 -0.011719)" d="M478 0L478 1170L140 959L140 1180L493 1409L759 1409L759 0Z"/></g></g>
<g transform="matrix(0.9833 0.0000 0.0000 1.0221 417.33 498.80)"><text font-size="32" font-weight="bold" >[inhibitor] (µM)</text></g>
<g transform="matrix(0.0000 -0.9627 1.0439 0.0000 103.10 411.36)"><text font-size="33" font-weight="bold" >% SARS-CoV-2 3CL activity</text></g>
<g transform="matrix(1.0217 0.0000 0.0000 1.0046 -1.02 25.75)"><text font-size="34" font-weight="bold" >A</text></g>
<g transform="matrix(1.0833 0.0000 0.0000 1.0953 205.25 191.80)"><text font-size="28" font-weight="normal" fill="#a4782a">IC</text></g>
<g transform="matrix(0.9783 0.0000 0.0000 1.0571 235.02 200.00)"><text font-size="22" font-weight="normal" fill="#a4782a">50</text></g>
<g transform="matrix(1.0528 0.0000 0.0000 1.0953 266.45 191.80)"><text font-size="28" font-weight="normal" fill="#a4782a">= 0.3 <tspan font-style="italic">μ</tspan>M</text></g>
<g transform="matrix(1.0833 0.0000 0.0000 1.0953 205.25 238.80)"><text font-size="28" font-weight="normal" fill="#ff2600">IC</text></g>
<g transform="matrix(0.9783 0.0000 0.0000 1.0571 235.02 247.00)"><text font-size="22" font-weight="normal" fill="#ff2600">50</text></g>
<g transform="matrix(1.0528 0.0000 0.0000 1.0953 266.45 238.80)"><text font-size="28" font-weight="normal" fill="#ff2600">= 0.3 <tspan font-style="italic">μ</tspan>M</text></g>
<g transform="matrix(1.0833 0.0000 0.0000 1.1057 205.25 280.00)"><text font-size="28" font-weight="normal" fill="#0433ff">IC</text></g>
<g transform="matrix(0.9783 0.0000 0.0000 1.0571 235.02 288.20)"><text font-size="22" font-weight="normal" fill="#0433ff">50</text></g>
<g transform="matrix(1.0542 0.0000 0.0000 1.1057 266.45 280.00)"><text font-size="28" font-weight="normal" fill="#0433ff">= 4 <tspan font-style="italic">μ</tspan>M</text></g>
<g transform="matrix(1.0833 0.0000 0.0000 1.1005 205.25 320.00)"><text font-size="28" font-weight="normal" fill="#00c800">IC</text></g>
<g transform="matrix(0.9783 0.0000 0.0000 1.0571 235.02 328.20)"><text font-size="22" font-weight="normal" fill="#00c800">50</text></g>
<g transform="matrix(1.0542 0.0000 0.0000 1.1005 266.45 320.00)"><text font-size="28" font-weight="normal" fill="#00c800">= 4 <tspan font-style="italic">μ</tspan>M</text></g>
<g transform="matrix(1.0833 0.0000 0.0000 1.0642 205.25 367.00)"><text font-size="28" font-weight="normal" fill="#00178f">IC</text></g>
<g transform="matrix(0.9783 0.0000 0.0000 1.0571 235.02 375.20)"><text font-size="22" font-weight="normal" fill="#00178f">50</text></g>
<g transform="matrix(1.0542 0.0000 0.0000 1.0642 266.45 367.00)"><text font-size="28" font-weight="normal" fill="#00178f">= 6 <tspan font-style="italic">μ</tspan>M</text></g>
<line x1="838.5" y1="36.9" x2="881" y2="36.9" stroke="#0433ff" stroke-width="3" stroke-linecap="round"/>
<circle cx="859.7" cy="36.9" r="7.9" fill="#0433ff"/>
<g transform="matrix(1.0493 0.0000 0.0000 1.0972 902.95 47.80)"><g ><text x="0.000 22.387 43.064 60.305" y="0" font-size="31" font-weight="normal">DEL </text><path transform="translate(60.305 0) scale(0.015137 -0.015137)" d="M515 0L515 1237L197 1010L197 1180L530 1409L696 1409L696 0Z"/></g></g>
<line x1="838.5" y1="91.86" x2="881" y2="91.86" stroke="#ff2600" stroke-width="3" stroke-linecap="round"/>
<polygon points="859.7,83.86 867.7,99.86 851.7,99.86" fill="#ff2600"/>
<g transform="matrix(1.0493 0.0000 0.0000 1.0972 902.95 102.76)"><text font-size="31" font-weight="normal" >DEL2</text></g>
<line x1="838.5" y1="146.82" x2="881" y2="146.82" stroke="#00c800" stroke-width="3" stroke-linecap="round"/>
<polygon points="851.7,138.82 867.7,138.82 859.7,154.82" fill="#00c800"/>
<g transform="matrix(1.0493 0.0000 0.0000 1.0972 902.95 157.72)"><text font-size="31" font-weight="normal" >DEL3</text></g>
<line x1="838.5" y1="201.78" x2="881" y2="201.78" stroke="#b937e6" stroke-width="3" stroke-linecap="round"/>
<polygon points="859.7,193.53 866.95,201.78 859.7,210.03 852.45,201.78" fill="#b937e6"/>
<g transform="matrix(1.0493 0.0000 0.0000 1.0972 902.95 212.68)"><text font-size="31" font-weight="normal" >DEL4</text></g>
<line x1="838.5" y1="256.74" x2="881" y2="256.74" stroke="#ff9300" stroke-width="3" stroke-linecap="round"/>
<circle cx="859.7" cy="256.74" r="10" fill="#ff9300"/>
<g transform="matrix(1.0493 0.0000 0.0000 1.0972 902.95 267.64)"><text font-size="31" font-weight="normal" >DEL5</text></g>
<line x1="838.5" y1="311.7" x2="881" y2="311.7" stroke="#000000" stroke-width="3" stroke-linecap="round"/>
<rect x="849.7" y="301.7" width="20" height="20" fill="#000000"/>
<g transform="matrix(1.0493 0.0000 0.0000 1.0972 902.95 322.60)"><text font-size="31" font-weight="normal" >DEL6</text></g>
<line x1="838.5" y1="366.66" x2="881" y2="366.66" stroke="#a4782a" stroke-width="3" stroke-linecap="round"/>
<polygon points="859.7,358.48 868.12,374.23 851.28,374.23" fill="#a4782a" stroke="#a4782a" stroke-width="5" stroke-linejoin="bevel"/>
<g transform="matrix(1.0493 0.0000 0.0000 1.0972 902.95 377.56)"><text font-size="31" font-weight="normal" >DEL7</text></g>
<line x1="838.5" y1="421.62" x2="881" y2="421.62" stroke="#00178f" stroke-width="3" stroke-linecap="round"/>
<polygon points="851.28,413.44 868.12,413.44 859.7,429.19" fill="#00178f" stroke="#00178f" stroke-width="5" stroke-linejoin="bevel"/>
<g transform="matrix(1.0493 0.0000 0.0000 1.0972 902.95 432.52)"><text font-size="31" font-weight="normal" >DEL8</text></g>
<line x1="203.5" y1="632" x2="779" y2="632" stroke="#000" stroke-width="3.9" stroke-linecap="round" stroke-dasharray="0 7.874"/>
<line x1="203.5" y1="763" x2="779" y2="763" stroke="#000" stroke-width="3.9" stroke-linecap="round" stroke-dasharray="0 7.874"/>
<line x1="203.5" y1="894" x2="779" y2="894" stroke="#000" stroke-width="3.9" stroke-linecap="round" stroke-dasharray="0 7.874"/>
<path d="M323.37,893.98 L325.94,893.98 L328.51,893.98 L331.09,893.98 L333.66,893.98 L336.24,893.98 L338.81,893.98 L341.38,893.97 L343.96,893.97 L346.53,893.97 L349.11,893.97 L351.68,893.97 L354.25,893.97 L356.83,893.96 L359.4,893.96 L361.98,893.96 L364.55,893.96 L367.12,893.95 L369.7,893.95 L372.27,893.95 L374.85,893.95 L377.42,893.94 L379.99,893.94 L382.57,893.94 L385.14,893.93 L387.72,893.93 L390.29,893.92 L392.86,893.92 L395.44,893.91 L398.01,893.91 L400.59,893.9 L403.16,893.9 L405.73,893.89 L408.31,893.88 L410.88,893.88 L413.46,893.87 L416.03,893.86 L418.6,893.85 L421.18,893.85 L423.75,893.84 L426.33,893.83 L428.9,893.82 L431.47,893.81 L434.05,893.79 L436.62,893.78 L439.19,893.77 L441.77,893.76 L444.34,893.74 L446.92,893.73 L449.49,893.71 L452.06,893.69 L454.64,893.67 L457.21,893.65 L459.79,893.63 L462.36,893.61 L464.93,893.59 L467.51,893.56 L470.08,893.54 L472.66,893.51 L475.23,893.48 L477.8,893.45 L480.38,893.42 L482.95,893.38 L485.53,893.35 L488.1,893.31 L490.67,893.27 L493.25,893.22 L495.82,893.18 L498.4,893.13 L500.97,893.08 L503.54,893.02 L506.12,892.97 L508.69,892.9 L511.27,892.84 L513.84,892.77 L516.41,892.7 L518.99,892.62 L521.56,892.54 L524.14,892.45 L526.71,892.36 L529.28,892.27 L531.86,892.16 L534.43,892.05 L537.01,891.94 L539.58,891.82 L542.15,891.69 L544.73,891.55 L547.3,891.41 L549.88,891.26 L552.45,891.1 L555.02,890.92 L557.6,890.74 L560.17,890.55 L562.74,890.35 L565.32,890.14 L567.89,889.91 L570.47,889.67 L573.04,889.42 L575.61,889.15 L578.19,888.87 L580.76,888.57 L583.34,888.25 L585.91,887.92 L588.48,887.57 L591.06,887.2 L593.63,886.8 L596.21,886.39 L598.78,885.95 L601.35,885.49 L603.93,885 L606.5,884.48 L609.08,883.94 L611.65,883.36 L614.22,882.76 L616.8,882.12 L619.37,881.45 L621.95,880.74 L624.52,879.99 L627.09,879.2 L629.67,878.38 L632.24,877.51 L634.82,876.59 L637.39,875.63 L639.96,874.62 L642.54,873.55 L645.11,872.44 L647.69,871.27 L650.26,870.04 L652.83,868.75 L655.41,867.4 L657.98,865.99 L660.56,864.51 L663.13,862.97 L665.7,861.35 L668.28,859.67 L670.85,857.91 L673.43,856.07 L676,854.16 L678.57,852.17 L681.15,850.1 L683.72,847.95 L686.29,845.71 L688.87,843.4 L691.44,841 L694.02,838.51 L696.59,835.94 L699.16,833.29 L701.74,830.56 L704.31,827.74 L706.89,824.84 L709.46,821.86 L712.03,818.8 L714.61,815.66 L717.18,812.46 L719.76,809.18 L722.33,805.83 L724.9,802.42 L727.48,798.95 L730.05,795.43 L732.63,791.85 L735.2,788.23" fill="none" stroke="#00178f" stroke-width="5"/>
<path d="M323.37,893.89 L325.94,893.89 L328.51,893.88 L331.09,893.87 L333.66,893.86 L336.24,893.86 L338.81,893.85 L341.38,893.84 L343.96,893.83 L346.53,893.82 L349.11,893.81 L351.68,893.8 L354.25,893.78 L356.83,893.77 L359.4,893.76 L361.98,893.74 L364.55,893.73 L367.12,893.71 L369.7,893.69 L372.27,893.67 L374.85,893.65 L377.42,893.63 L379.99,893.61 L382.57,893.59 L385.14,893.56 L387.72,893.54 L390.29,893.51 L392.86,893.48 L395.44,893.45 L398.01,893.42 L400.59,893.38 L403.16,893.34 L405.73,893.3 L408.31,893.26 L410.88,893.22 L413.46,893.17 L416.03,893.12 L418.6,893.07 L421.18,893.01 L423.75,892.95 L426.33,892.89 L428.9,892.82 L431.47,892.75 L434.05,892.68 L436.62,892.6 L439.19,892.51 L441.77,892.43 L444.34,892.33 L446.92,892.23 L449.49,892.13 L452.06,892.01 L454.64,891.89 L457.21,891.77 L459.79,891.63 L462.36,891.49 L464.93,891.34 L467.51,891.19 L470.08,891.02 L472.66,890.84 L475.23,890.65 L477.8,890.45 L480.38,890.24 L482.95,890.02 L485.53,889.78 L488.1,889.53 L490.67,889.27 L493.25,888.99 L495.82,888.69 L498.4,888.38 L500.97,888.05 L503.54,887.7 L506.12,887.33 L508.69,886.94 L511.27,886.52 L513.84,886.09 L516.41,885.62 L518.99,885.14 L521.56,884.62 L524.14,884.08 L526.71,883.5 L529.28,882.9 L531.86,882.26 L534.43,881.58 L537.01,880.87 L539.58,880.12 L542.15,879.33 L544.73,878.5 L547.3,877.62 L549.88,876.7 L552.45,875.73 L555.02,874.71 L557.6,873.64 L560.17,872.51 L562.74,871.33 L565.32,870.09 L567.89,868.78 L570.47,867.42 L573.04,865.99 L575.61,864.49 L578.19,862.92 L580.76,861.28 L583.34,859.57 L585.91,857.78 L588.48,855.91 L591.06,853.96 L593.63,851.94 L596.21,849.83 L598.78,847.64 L601.35,845.36 L603.93,843 L606.5,840.55 L609.08,838.02 L611.65,835.4 L614.22,832.69 L616.8,829.9 L619.37,827.02 L621.95,824.06 L624.52,821.02 L627.09,817.9 L629.67,814.7 L632.24,811.42 L634.82,808.08 L637.39,804.66 L639.96,801.19 L642.54,797.65 L645.11,794.06 L647.69,790.41 L650.26,786.72 L652.83,783 L655.41,779.24 L657.98,775.45 L660.56,771.64 L663.13,767.81 L665.7,763.98 L668.28,760.15 L670.85,756.32 L673.43,752.5 L676,748.7 L678.57,744.92 L681.15,741.18 L683.72,737.47 L686.29,733.8 L688.87,730.18 L691.44,726.62 L694.02,723.11 L696.59,719.66 L699.16,716.28 L701.74,712.97 L704.31,709.73 L706.89,706.57 L709.46,703.48 L712.03,700.48 L714.61,697.56 L717.18,694.73 L719.76,691.98 L722.33,689.31 L724.9,686.73 L727.48,684.24 L730.05,681.84 L732.63,679.52 L735.2,677.28" fill="none" stroke="#a4782a" stroke-width="5"/>
<path d="M323.37,893.98 L325.94,893.98 L328.51,893.98 L331.09,893.98 L333.66,893.97 L336.24,893.97 L338.81,893.97 L341.38,893.97 L343.96,893.97 L346.53,893.97 L349.11,893.96 L351.68,893.96 L354.25,893.96 L356.83,893.96 L359.4,893.96 L361.98,893.95 L364.55,893.95 L367.12,893.95 L369.7,893.95 L372.27,893.94 L374.85,893.94 L377.42,893.94 L379.99,893.93 L382.57,893.93 L385.14,893.92 L387.72,893.92 L390.29,893.92 L392.86,893.91 L395.44,893.91 L398.01,893.9 L400.59,893.89 L403.16,893.89 L405.73,893.88 L408.31,893.88 L410.88,893.87 L413.46,893.86 L416.03,893.85 L418.6,893.84 L421.18,893.84 L423.75,893.83 L426.33,893.82 L428.9,893.81 L431.47,893.79 L434.05,893.78 L436.62,893.77 L439.19,893.76 L441.77,893.74 L444.34,893.73 L446.92,893.71 L449.49,893.7 L452.06,893.68 L454.64,893.66 L457.21,893.64 L459.79,893.62 L462.36,893.6 L464.93,893.58 L467.51,893.56 L470.08,893.53 L472.66,893.5 L475.23,893.48 L477.8,893.45 L480.38,893.42 L482.95,893.38 L485.53,893.35 L488.1,893.31 L490.67,893.27 L493.25,893.23 L495.82,893.19 L498.4,893.14 L500.97,893.09 L503.54,893.04 L506.12,892.99 L508.69,892.93 L511.27,892.87 L513.84,892.81 L516.41,892.74 L518.99,892.67 L521.56,892.59 L524.14,892.51 L526.71,892.43 L529.28,892.34 L531.86,892.25 L534.43,892.15 L537.01,892.04 L539.58,891.93 L542.15,891.82 L544.73,891.69 L547.3,891.56 L549.88,891.43 L552.45,891.28 L555.02,891.13 L557.6,890.97 L560.17,890.8 L562.74,890.62 L565.32,890.43 L567.89,890.23 L570.47,890.02 L573.04,889.8 L575.61,889.57 L578.19,889.32 L580.76,889.06 L583.34,888.78 L585.91,888.49 L588.48,888.19 L591.06,887.87 L593.63,887.53 L596.21,887.17 L598.78,886.79 L601.35,886.4 L603.93,885.98 L606.5,885.54 L609.08,885.08 L611.65,884.59 L614.22,884.07 L616.8,883.53 L619.37,882.97 L621.95,882.37 L624.52,881.74 L627.09,881.08 L629.67,880.38 L632.24,879.65 L634.82,878.89 L637.39,878.08 L639.96,877.24 L642.54,876.35 L645.11,875.42 L647.69,874.44 L650.26,873.42 L652.83,872.35 L655.41,871.23 L657.98,870.06 L660.56,868.83 L663.13,867.55 L665.7,866.2 L668.28,864.8 L670.85,863.34 L673.43,861.82 L676,860.23 L678.57,858.57 L681.15,856.85 L683.72,855.05 L686.29,853.19 L688.87,851.25 L691.44,849.24 L694.02,847.15 L696.59,844.99 L699.16,842.76 L701.74,840.45 L704.31,838.06 L706.89,835.59 L709.46,833.05 L712.03,830.43 L714.61,827.74 L717.18,824.97 L719.76,822.13 L722.33,819.22 L724.9,816.24 L727.48,813.19 L730.05,810.07 L732.63,806.89 L735.2,803.66" fill="none" stroke="#00c800" stroke-width="5"/>
<path d="M323.37,893.81 L325.94,893.79 L328.51,893.78 L331.09,893.77 L333.66,893.75 L336.24,893.74 L338.81,893.72 L341.38,893.7 L343.96,893.68 L346.53,893.67 L349.11,893.64 L351.68,893.62 L354.25,893.6 L356.83,893.57 L359.4,893.55 L361.98,893.52 L364.55,893.49 L367.12,893.46 L369.7,893.42 L372.27,893.39 L374.85,893.35 L377.42,893.31 L379.99,893.27 L382.57,893.22 L385.14,893.17 L387.72,893.12 L390.29,893.07 L392.86,893.01 L395.44,892.95 L398.01,892.88 L400.59,892.81 L403.16,892.74 L405.73,892.66 L408.31,892.58 L410.88,892.49 L413.46,892.4 L416.03,892.3 L418.6,892.2 L421.18,892.08 L423.75,891.97 L426.33,891.84 L428.9,891.71 L431.47,891.57 L434.05,891.42 L436.62,891.26 L439.19,891.09 L441.77,890.91 L444.34,890.72 L446.92,890.52 L449.49,890.3 L452.06,890.08 L454.64,889.84 L457.21,889.58 L459.79,889.31 L462.36,889.03 L464.93,888.72 L467.51,888.4 L470.08,888.06 L472.66,887.7 L475.23,887.32 L477.8,886.92 L480.38,886.49 L482.95,886.04 L485.53,885.56 L488.1,885.05 L490.67,884.51 L493.25,883.94 L495.82,883.34 L498.4,882.71 L500.97,882.04 L503.54,881.33 L506.12,880.58 L508.69,879.79 L511.27,878.96 L513.84,878.08 L516.41,877.15 L518.99,876.18 L521.56,875.15 L524.14,874.07 L526.71,872.93 L529.28,871.73 L531.86,870.46 L534.43,869.14 L537.01,867.75 L539.58,866.29 L542.15,864.76 L544.73,863.15 L547.3,861.47 L549.88,859.71 L552.45,857.87 L555.02,855.95 L557.6,853.94 L560.17,851.85 L562.74,849.68 L565.32,847.41 L567.89,845.05 L570.47,842.6 L573.04,840.06 L575.61,837.43 L578.19,834.71 L580.76,831.9 L583.34,828.99 L585.91,826 L588.48,822.91 L591.06,819.74 L593.63,816.49 L596.21,813.16 L598.78,809.75 L601.35,806.26 L603.93,802.7 L606.5,799.08 L609.08,795.4 L611.65,791.66 L614.22,787.87 L616.8,784.04 L619.37,780.17 L621.95,776.27 L624.52,772.35 L627.09,768.41 L629.67,764.46 L632.24,760.5 L634.82,756.56 L637.39,752.62 L639.96,748.7 L642.54,744.81 L645.11,740.95 L647.69,737.13 L650.26,733.35 L652.83,729.63 L655.41,725.96 L657.98,722.36 L660.56,718.82 L663.13,715.35 L665.7,711.96 L668.28,708.65 L670.85,705.42 L673.43,702.27 L676,699.21 L678.57,696.24 L681.15,693.36 L683.72,690.57 L686.29,687.87 L688.87,685.26 L691.44,682.75 L694.02,680.32 L696.59,677.99 L699.16,675.74 L701.74,673.59 L704.31,671.52 L706.89,669.54 L709.46,667.64 L712.03,665.82 L714.61,664.08 L717.18,662.42 L719.76,660.84 L722.33,659.32 L724.9,657.88 L727.48,656.51 L730.05,655.2 L732.63,653.95 L735.2,652.77" fill="none" stroke="#ff2600" stroke-width="5"/>
<path d="M323.37,893.96 L325.94,893.96 L328.51,893.95 L331.09,893.95 L333.66,893.95 L336.24,893.94 L338.81,893.94 L341.38,893.94 L343.96,893.93 L346.53,893.93 L349.11,893.92 L351.68,893.92 L354.25,893.91 L356.83,893.91 L359.4,893.9 L361.98,893.9 L364.55,893.89 L367.12,893.88 L369.7,893.88 L372.27,893.87 L374.85,893.86 L377.42,893.85 L379.99,893.84 L382.57,893.83 L385.14,893.82 L387.72,893.81 L390.29,893.8 L392.86,893.79 L395.44,893.77 L398.01,893.76 L400.59,893.74 L403.16,893.73 L405.73,893.71 L408.31,893.69 L410.88,893.67 L413.46,893.65 L416.03,893.63 L418.6,893.61 L421.18,893.58 L423.75,893.56 L426.33,893.53 L428.9,893.5 L431.47,893.47 L434.05,893.44 L436.62,893.4 L439.19,893.36 L441.77,893.33 L444.34,893.28 L446.92,893.24 L449.49,893.19 L452.06,893.14 L454.64,893.09 L457.21,893.03 L459.79,892.97 L462.36,892.91 L464.93,892.84 L467.51,892.77 L470.08,892.69 L472.66,892.61 L475.23,892.53 L477.8,892.43 L480.38,892.34 L482.95,892.24 L485.53,892.13 L488.1,892.01 L490.67,891.89 L493.25,891.76 L495.82,891.62 L498.4,891.47 L500.97,891.32 L503.54,891.15 L506.12,890.98 L508.69,890.79 L511.27,890.59 L513.84,890.39 L516.41,890.16 L518.99,889.93 L521.56,889.68 L524.14,889.42 L526.71,889.14 L529.28,888.84 L531.86,888.52 L534.43,888.19 L537.01,887.84 L539.58,887.46 L542.15,887.07 L544.73,886.65 L547.3,886.21 L549.88,885.74 L552.45,885.24 L555.02,884.71 L557.6,884.16 L560.17,883.57 L562.74,882.95 L565.32,882.29 L567.89,881.6 L570.47,880.86 L573.04,880.09 L575.61,879.27 L578.19,878.41 L580.76,877.5 L583.34,876.55 L585.91,875.54 L588.48,874.47 L591.06,873.35 L593.63,872.18 L596.21,870.94 L598.78,869.64 L601.35,868.27 L603.93,866.84 L606.5,865.33 L609.08,863.75 L611.65,862.1 L614.22,860.37 L616.8,858.56 L619.37,856.67 L621.95,854.7 L624.52,852.64 L627.09,850.49 L629.67,848.26 L632.24,845.94 L634.82,843.52 L637.39,841.02 L639.96,838.42 L642.54,835.73 L645.11,832.95 L647.69,830.08 L650.26,827.12 L652.83,824.07 L655.41,820.93 L657.98,817.71 L660.56,814.4 L663.13,811.02 L665.7,807.56 L668.28,804.03 L670.85,800.43 L673.43,796.77 L676,793.05 L678.57,789.28 L681.15,785.46 L683.72,781.61 L686.29,777.72 L688.87,773.8 L691.44,769.87 L694.02,765.92 L696.59,761.97 L699.16,758.02 L701.74,754.08 L704.31,750.15 L706.89,746.25 L709.46,742.38 L712.03,738.54 L714.61,734.75 L717.18,731 L719.76,727.32 L722.33,723.69 L724.9,720.12 L727.48,716.63 L730.05,713.21 L732.63,709.87 L735.2,706.6" fill="none" stroke="#0433ff" stroke-width="5"/>
<path d="M323.37,891.54 L325.94,891.39 L328.51,891.23 L331.09,891.06 L333.66,890.88 L336.24,890.69 L338.81,890.49 L341.38,890.27 L343.96,890.04 L346.53,889.8 L349.11,889.54 L351.68,889.27 L354.25,888.98 L356.83,888.68 L359.4,888.35 L361.98,888.01 L364.55,887.64 L367.12,887.26 L369.7,886.85 L372.27,886.42 L374.85,885.96 L377.42,885.48 L379.99,884.97 L382.57,884.42 L385.14,883.85 L387.72,883.25 L390.29,882.61 L392.86,881.93 L395.44,881.22 L398.01,880.46 L400.59,879.67 L403.16,878.83 L405.73,877.94 L408.31,877 L410.88,876.02 L413.46,874.98 L416.03,873.89 L418.6,872.74 L421.18,871.53 L423.75,870.26 L426.33,868.92 L428.9,867.52 L431.47,866.05 L434.05,864.51 L436.62,862.89 L439.19,861.2 L441.77,859.43 L444.34,857.57 L446.92,855.64 L449.49,853.62 L452.06,851.52 L454.64,849.32 L457.21,847.04 L459.79,844.67 L462.36,842.21 L464.93,839.66 L467.51,837.01 L470.08,834.27 L472.66,831.44 L475.23,828.53 L477.8,825.52 L480.38,822.42 L482.95,819.24 L485.53,815.97 L488.1,812.63 L490.67,809.2 L493.25,805.7 L495.82,802.14 L498.4,798.5 L500.97,794.81 L503.54,791.07 L506.12,787.27 L508.69,783.43 L511.27,779.56 L513.84,775.66 L516.41,771.73 L518.99,767.79 L521.56,763.84 L524.14,759.88 L526.71,755.94 L529.28,752 L531.86,748.09 L534.43,744.2 L537.01,740.35 L539.58,736.53 L542.15,732.77 L544.73,729.05 L547.3,725.39 L549.88,721.8 L552.45,718.27 L555.02,714.81 L557.6,711.43 L560.17,708.13 L562.74,704.92 L565.32,701.78 L567.89,698.74 L570.47,695.78 L573.04,692.91 L575.61,690.14 L578.19,687.45 L580.76,684.86 L583.34,682.36 L585.91,679.95 L588.48,677.63 L591.06,675.4 L593.63,673.26 L596.21,671.2 L598.78,669.23 L601.35,667.35 L603.93,665.54 L606.5,663.82 L609.08,662.17 L611.65,660.59 L614.22,659.09 L616.8,657.66 L619.37,656.3 L621.95,655 L624.52,653.76 L627.09,652.59 L629.67,651.47 L632.24,650.41 L634.82,649.41 L637.39,648.45 L639.96,647.54 L642.54,646.68 L645.11,645.87 L647.69,645.1 L650.26,644.37 L652.83,643.68 L655.41,643.02 L657.98,642.4 L660.56,641.81 L663.13,641.26 L665.7,640.74 L668.28,640.24 L670.85,639.77 L673.43,639.33 L676,638.91 L678.57,638.52 L681.15,638.14 L683.72,637.79 L686.29,637.46 L688.87,637.15 L691.44,636.85 L694.02,636.57 L696.59,636.31 L699.16,636.06 L701.74,635.83 L704.31,635.6 L706.89,635.4 L709.46,635.2 L712.03,635.01 L714.61,634.84 L717.18,634.68 L719.76,634.52 L722.33,634.37 L724.9,634.24 L727.48,634.11 L730.05,633.98 L732.63,633.87 L735.2,633.76" fill="none" stroke="#000000" stroke-width="2.6"/>
<line x1="323.37" y1="949.02" x2="323.37" y2="908.67" stroke="#00178f" stroke-width="2.3"/>
<line x1="315.67" y1="908.67" x2="331.07" y2="908.67" stroke="#00178f" stroke-width="2.3" stroke-linecap="round"/>
<polygon points="315.37,941.22 331.37,941.22 323.37,956.82" fill="#00178f"/>
<polygon points="384.01,872.31 400.01,872.31 392.01,887.91" fill="#00178f"/>
<line x1="460.64" y1="890.07" x2="460.64" y2="902.91" stroke="#00178f" stroke-width="2.3"/>
<line x1="452.94" y1="902.91" x2="468.34" y2="902.91" stroke="#00178f" stroke-width="2.3" stroke-linecap="round"/>
<polygon points="452.64,882.27 468.64,882.27 460.64,897.87" fill="#00178f"/>
<polygon points="521.28,895.37 537.28,895.37 529.28,910.97" fill="#00178f"/>
<line x1="597.92" y1="894" x2="597.92" y2="849.46" stroke="#00178f" stroke-width="2.3"/>
<line x1="590.22" y1="849.46" x2="605.62" y2="849.46" stroke="#00178f" stroke-width="2.3" stroke-linecap="round"/>
<line x1="597.92" y1="894" x2="597.92" y2="940.37" stroke="#00178f" stroke-width="2.3"/>
<line x1="590.22" y1="940.37" x2="605.62" y2="940.37" stroke="#00178f" stroke-width="2.3" stroke-linecap="round"/>
<polygon points="589.92,886.2 605.92,886.2 597.92,901.8" fill="#00178f"/>
<polygon points="658.56,790.83 674.56,790.83 666.56,806.43" fill="#00178f"/>
<line x1="735.2" y1="814.88" x2="735.2" y2="777.67" stroke="#00178f" stroke-width="2.3"/>
<line x1="727.5" y1="777.67" x2="742.9" y2="777.67" stroke="#00178f" stroke-width="2.3" stroke-linecap="round"/>
<line x1="735.2" y1="814.88" x2="735.2" y2="852.6" stroke="#00178f" stroke-width="2.3"/>
<line x1="727.5" y1="852.6" x2="742.9" y2="852.6" stroke="#00178f" stroke-width="2.3" stroke-linecap="round"/>
<polygon points="727.2,807.08 743.2,807.08 735.2,822.68" fill="#00178f"/>
<line x1="323.37" y1="880.11" x2="323.37" y2="867.01" stroke="#a4782a" stroke-width="2.3"/>
<line x1="315.67" y1="867.01" x2="331.07" y2="867.01" stroke="#a4782a" stroke-width="2.3" stroke-linecap="round"/>
<line x1="323.37" y1="880.11" x2="323.37" y2="892.82" stroke="#a4782a" stroke-width="2.3"/>
<line x1="315.67" y1="892.82" x2="331.07" y2="892.82" stroke="#a4782a" stroke-width="2.3" stroke-linecap="round"/>
<polygon points="319.49,873.61 327.24,873.61 331.12,880.11 327.24,886.61 319.49,886.61 315.62,880.11" fill="#a4782a"/>
<line x1="392.01" y1="894" x2="392.01" y2="884.57" stroke="#a4782a" stroke-width="2.3"/>
<line x1="384.31" y1="884.57" x2="399.71" y2="884.57" stroke="#a4782a" stroke-width="2.3" stroke-linecap="round"/>
<line x1="392.01" y1="894" x2="392.01" y2="908.67" stroke="#a4782a" stroke-width="2.3"/>
<line x1="384.31" y1="908.67" x2="399.71" y2="908.67" stroke="#a4782a" stroke-width="2.3" stroke-linecap="round"/>
<polygon points="388.13,887.5 395.88,887.5 399.76,894 395.88,900.5 388.13,900.5 384.26,894" fill="#a4782a"/>
<line x1="460.64" y1="848.41" x2="460.64" y2="838.98" stroke="#a4782a" stroke-width="2.3"/>
<line x1="452.94" y1="838.98" x2="468.34" y2="838.98" stroke="#a4782a" stroke-width="2.3" stroke-linecap="round"/>
<line x1="460.64" y1="848.41" x2="460.64" y2="857.84" stroke="#a4782a" stroke-width="2.3"/>
<line x1="452.94" y1="857.84" x2="468.34" y2="857.84" stroke="#a4782a" stroke-width="2.3" stroke-linecap="round"/>
<polygon points="456.77,841.91 464.52,841.91 468.39,848.41 464.52,854.91 456.77,854.91 452.89,848.41" fill="#a4782a"/>
<line x1="529.28" y1="840.29" x2="529.28" y2="824.05" stroke="#a4782a" stroke-width="2.3"/>
<line x1="521.58" y1="824.05" x2="536.98" y2="824.05" stroke="#a4782a" stroke-width="2.3" stroke-linecap="round"/>
<line x1="529.28" y1="840.29" x2="529.28" y2="857.32" stroke="#a4782a" stroke-width="2.3"/>
<line x1="521.58" y1="857.32" x2="536.98" y2="857.32" stroke="#a4782a" stroke-width="2.3" stroke-linecap="round"/>
<polygon points="525.41,833.79 533.16,833.79 537.03,840.29 533.16,846.79 525.41,846.79 521.53,840.29" fill="#a4782a"/>
<polygon points="594.05,833.79 601.8,833.79 605.67,840.29 601.8,846.79 594.05,846.79 590.17,840.29" fill="#a4782a"/>
<line x1="666.56" y1="776.89" x2="666.56" y2="763.26" stroke="#a4782a" stroke-width="2.3"/>
<line x1="658.86" y1="763.26" x2="674.26" y2="763.26" stroke="#a4782a" stroke-width="2.3" stroke-linecap="round"/>
<line x1="666.56" y1="776.89" x2="666.56" y2="790.51" stroke="#a4782a" stroke-width="2.3"/>
<line x1="658.86" y1="790.51" x2="674.26" y2="790.51" stroke="#a4782a" stroke-width="2.3" stroke-linecap="round"/>
<polygon points="662.69,770.39 670.44,770.39 674.31,776.89 670.44,783.39 662.69,783.39 658.81,776.89" fill="#a4782a"/>
<line x1="735.2" y1="672.09" x2="735.2" y2="663.7" stroke="#a4782a" stroke-width="2.3"/>
<line x1="727.5" y1="663.7" x2="742.9" y2="663.7" stroke="#a4782a" stroke-width="2.3" stroke-linecap="round"/>
<line x1="735.2" y1="672.09" x2="735.2" y2="683.88" stroke="#a4782a" stroke-width="2.3"/>
<line x1="727.5" y1="683.88" x2="742.9" y2="683.88" stroke="#a4782a" stroke-width="2.3" stroke-linecap="round"/>
<polygon points="731.33,665.59 739.08,665.59 742.95,672.09 739.08,678.59 731.33,678.59 727.45,672.09" fill="#a4782a"/>
<line x1="323.37" y1="879.2" x2="323.37" y2="857.58" stroke="#00c800" stroke-width="2.3"/>
<line x1="315.67" y1="857.58" x2="331.07" y2="857.58" stroke="#00c800" stroke-width="2.3" stroke-linecap="round"/>
<line x1="323.37" y1="879.2" x2="323.37" y2="898.98" stroke="#00c800" stroke-width="2.3"/>
<line x1="315.67" y1="898.98" x2="331.07" y2="898.98" stroke="#00c800" stroke-width="2.3" stroke-linecap="round"/>
<polygon points="323.37,871.45 331.12,879.2 323.37,886.95 315.62,879.2" fill="#00c800"/>
<polygon points="392.01,886.25 399.76,894 392.01,901.75 384.26,894" fill="#00c800"/>
<line x1="460.64" y1="849.98" x2="460.64" y2="834" stroke="#00c800" stroke-width="2.3"/>
<line x1="452.94" y1="834" x2="468.34" y2="834" stroke="#00c800" stroke-width="2.3" stroke-linecap="round"/>
<line x1="460.64" y1="849.98" x2="460.64" y2="866.23" stroke="#00c800" stroke-width="2.3"/>
<line x1="452.94" y1="866.23" x2="468.34" y2="866.23" stroke="#00c800" stroke-width="2.3" stroke-linecap="round"/>
<polygon points="460.64,842.23 468.39,849.98 460.64,857.73 452.89,849.98" fill="#00c800"/>
<line x1="529.28" y1="864.92" x2="529.28" y2="844.22" stroke="#00c800" stroke-width="2.3"/>
<line x1="521.58" y1="844.22" x2="536.98" y2="844.22" stroke="#00c800" stroke-width="2.3" stroke-linecap="round"/>
<line x1="529.28" y1="864.92" x2="529.28" y2="888.5" stroke="#00c800" stroke-width="2.3"/>
<line x1="521.58" y1="888.5" x2="536.98" y2="888.5" stroke="#00c800" stroke-width="2.3" stroke-linecap="round"/>
<polygon points="529.28,857.17 537.03,864.92 529.28,872.67 521.53,864.92" fill="#00c800"/>
<polygon points="597.92,834.37 605.67,842.12 597.92,849.87 590.17,842.12" fill="#00c800"/>
<polygon points="666.56,821.8 674.31,829.55 666.56,837.3 658.81,829.55" fill="#00c800"/>
<polygon points="735.2,816.03 742.95,823.78 735.2,831.53 727.45,823.78" fill="#00c800"/>
<line x1="323.37" y1="911.03" x2="323.37" y2="889.81" stroke="#ff2600" stroke-width="2.3"/>
<line x1="315.67" y1="889.81" x2="331.07" y2="889.81" stroke="#ff2600" stroke-width="2.3" stroke-linecap="round"/>
<line x1="323.37" y1="911.03" x2="323.37" y2="929.89" stroke="#ff2600" stroke-width="2.3"/>
<line x1="315.67" y1="929.89" x2="331.07" y2="929.89" stroke="#ff2600" stroke-width="2.3" stroke-linecap="round"/>
<polygon points="323.37,903.03 331.37,919.03 315.37,919.03" fill="#ff2600"/>
<line x1="392.01" y1="896.88" x2="392.01" y2="876.97" stroke="#ff2600" stroke-width="2.3"/>
<line x1="384.31" y1="876.97" x2="399.71" y2="876.97" stroke="#ff2600" stroke-width="2.3" stroke-linecap="round"/>
<line x1="392.01" y1="896.88" x2="392.01" y2="915.22" stroke="#ff2600" stroke-width="2.3"/>
<line x1="384.31" y1="915.22" x2="399.71" y2="915.22" stroke="#ff2600" stroke-width="2.3" stroke-linecap="round"/>
<polygon points="392.01,888.88 400.01,904.88 384.01,904.88" fill="#ff2600"/>
<line x1="460.64" y1="842.91" x2="460.64" y2="837.67" stroke="#ff2600" stroke-width="2.3"/>
<line x1="452.94" y1="837.67" x2="468.34" y2="837.67" stroke="#ff2600" stroke-width="2.3" stroke-linecap="round"/>
<line x1="460.64" y1="842.91" x2="460.64" y2="868.32" stroke="#ff2600" stroke-width="2.3"/>
<line x1="452.94" y1="868.32" x2="468.34" y2="868.32" stroke="#ff2600" stroke-width="2.3" stroke-linecap="round"/>
<polygon points="460.64,834.91 468.64,850.91 452.64,850.91" fill="#ff2600"/>
<line x1="529.28" y1="858.63" x2="529.28" y2="840.55" stroke="#ff2600" stroke-width="2.3"/>
<line x1="521.58" y1="840.55" x2="536.98" y2="840.55" stroke="#ff2600" stroke-width="2.3" stroke-linecap="round"/>
<line x1="529.28" y1="858.63" x2="529.28" y2="876.45" stroke="#ff2600" stroke-width="2.3"/>
<line x1="521.58" y1="876.45" x2="536.98" y2="876.45" stroke="#ff2600" stroke-width="2.3" stroke-linecap="round"/>
<polygon points="529.28,850.63 537.28,866.63 521.28,866.63" fill="#ff2600"/>
<line x1="597.92" y1="821.95" x2="597.92" y2="809.9" stroke="#ff2600" stroke-width="2.3"/>
<line x1="590.22" y1="809.9" x2="605.62" y2="809.9" stroke="#ff2600" stroke-width="2.3" stroke-linecap="round"/>
<line x1="597.92" y1="821.95" x2="597.92" y2="835.31" stroke="#ff2600" stroke-width="2.3"/>
<line x1="590.22" y1="835.31" x2="605.62" y2="835.31" stroke="#ff2600" stroke-width="2.3" stroke-linecap="round"/>
<polygon points="597.92,813.95 605.92,829.95 589.92,829.95" fill="#ff2600"/>
<polygon points="666.56,698.41 674.56,714.41 658.56,714.41" fill="#ff2600"/>
<polygon points="735.2,639.72 743.2,655.72 727.2,655.72" fill="#ff2600"/>
<line x1="323.37" y1="923.87" x2="323.37" y2="912.6" stroke="#0433ff" stroke-width="2.3"/>
<line x1="315.67" y1="912.6" x2="331.07" y2="912.6" stroke="#0433ff" stroke-width="2.3" stroke-linecap="round"/>
<line x1="323.37" y1="923.87" x2="323.37" y2="935.13" stroke="#0433ff" stroke-width="2.3"/>
<line x1="315.67" y1="935.13" x2="331.07" y2="935.13" stroke="#0433ff" stroke-width="2.3" stroke-linecap="round"/>
<rect x="315.37" y="915.87" width="16" height="16" fill="#0433ff"/>
<rect x="384.01" y="848.8" width="16" height="16" fill="#0433ff"/>
<line x1="460.64" y1="879.33" x2="460.64" y2="868.85" stroke="#0433ff" stroke-width="2.3"/>
<line x1="452.94" y1="868.85" x2="468.34" y2="868.85" stroke="#0433ff" stroke-width="2.3" stroke-linecap="round"/>
<line x1="460.64" y1="879.33" x2="460.64" y2="888.76" stroke="#0433ff" stroke-width="2.3"/>
<line x1="452.94" y1="888.76" x2="468.34" y2="888.76" stroke="#0433ff" stroke-width="2.3" stroke-linecap="round"/>
<rect x="452.64" y="871.33" width="16" height="16" fill="#0433ff"/>
<line x1="529.28" y1="903.96" x2="529.28" y2="849.98" stroke="#0433ff" stroke-width="2.3"/>
<line x1="521.58" y1="849.98" x2="536.98" y2="849.98" stroke="#0433ff" stroke-width="2.3" stroke-linecap="round"/>
<line x1="529.28" y1="903.96" x2="529.28" y2="957.93" stroke="#0433ff" stroke-width="2.3"/>
<line x1="521.58" y1="957.93" x2="536.98" y2="957.93" stroke="#0433ff" stroke-width="2.3" stroke-linecap="round"/>
<rect x="521.28" y="895.96" width="16" height="16" fill="#0433ff"/>
<line x1="597.92" y1="894.26" x2="597.92" y2="847.1" stroke="#0433ff" stroke-width="2.3"/>
<line x1="590.22" y1="847.1" x2="605.62" y2="847.1" stroke="#0433ff" stroke-width="2.3" stroke-linecap="round"/>
<line x1="597.92" y1="894.26" x2="597.92" y2="941.16" stroke="#0433ff" stroke-width="2.3"/>
<line x1="590.22" y1="941.16" x2="605.62" y2="941.16" stroke="#0433ff" stroke-width="2.3" stroke-linecap="round"/>
<rect x="589.92" y="886.26" width="16" height="16" fill="#0433ff"/>
<line x1="666.56" y1="801.78" x2="666.56" y2="793.92" stroke="#0433ff" stroke-width="2.3"/>
<line x1="658.86" y1="793.92" x2="674.26" y2="793.92" stroke="#0433ff" stroke-width="2.3" stroke-linecap="round"/>
<line x1="666.56" y1="801.78" x2="666.56" y2="809.64" stroke="#0433ff" stroke-width="2.3"/>
<line x1="658.86" y1="809.64" x2="674.26" y2="809.64" stroke="#0433ff" stroke-width="2.3" stroke-linecap="round"/>
<rect x="658.56" y="793.78" width="16" height="16" fill="#0433ff"/>
<line x1="735.2" y1="700.38" x2="735.2" y2="674.97" stroke="#0433ff" stroke-width="2.3"/>
<line x1="727.5" y1="674.97" x2="742.9" y2="674.97" stroke="#0433ff" stroke-width="2.3" stroke-linecap="round"/>
<line x1="735.2" y1="700.38" x2="735.2" y2="726.58" stroke="#0433ff" stroke-width="2.3"/>
<line x1="727.5" y1="726.58" x2="742.9" y2="726.58" stroke="#0433ff" stroke-width="2.3" stroke-linecap="round"/>
<rect x="727.2" y="692.38" width="16" height="16" fill="#0433ff"/>
<line x1="323.37" y1="924.65" x2="323.37" y2="907.1" stroke="#000000" stroke-width="2.3"/>
<line x1="315.67" y1="907.1" x2="331.07" y2="907.1" stroke="#000000" stroke-width="2.3" stroke-linecap="round"/>
<line x1="323.37" y1="924.65" x2="323.37" y2="942.21" stroke="#000000" stroke-width="2.3"/>
<line x1="315.67" y1="942.21" x2="331.07" y2="942.21" stroke="#000000" stroke-width="2.3" stroke-linecap="round"/>
<circle cx="323.37" cy="924.65" r="7.8" fill="#000000"/>
<line x1="392.01" y1="895.05" x2="392.01" y2="884.57" stroke="#000000" stroke-width="2.3"/>
<line x1="384.31" y1="884.57" x2="399.71" y2="884.57" stroke="#000000" stroke-width="2.3" stroke-linecap="round"/>
<line x1="392.01" y1="895.05" x2="392.01" y2="905.53" stroke="#000000" stroke-width="2.3"/>
<line x1="384.31" y1="905.53" x2="399.71" y2="905.53" stroke="#000000" stroke-width="2.3" stroke-linecap="round"/>
<circle cx="392.01" cy="895.05" r="7.8" fill="#000000"/>
<line x1="460.64" y1="847.1" x2="460.64" y2="836.88" stroke="#000000" stroke-width="2.3"/>
<line x1="452.94" y1="836.88" x2="468.34" y2="836.88" stroke="#000000" stroke-width="2.3" stroke-linecap="round"/>
<line x1="460.64" y1="847.1" x2="460.64" y2="857.32" stroke="#000000" stroke-width="2.3"/>
<line x1="452.94" y1="857.32" x2="468.34" y2="857.32" stroke="#000000" stroke-width="2.3" stroke-linecap="round"/>
<circle cx="460.64" cy="847.1" r="7.8" fill="#000000"/>
<line x1="529.28" y1="752.52" x2="529.28" y2="742.04" stroke="#000000" stroke-width="2.3"/>
<line x1="521.58" y1="742.04" x2="536.98" y2="742.04" stroke="#000000" stroke-width="2.3" stroke-linecap="round"/>
<line x1="529.28" y1="752.52" x2="529.28" y2="763" stroke="#000000" stroke-width="2.3"/>
<line x1="521.58" y1="763" x2="536.98" y2="763" stroke="#000000" stroke-width="2.3" stroke-linecap="round"/>
<circle cx="529.28" cy="752.52" r="7.8" fill="#000000"/>
<circle cx="597.92" cy="662.39" r="7.8" fill="#000000"/>
<circle cx="666.56" cy="661.34" r="7.8" fill="#000000"/>
<circle cx="735.2" cy="656.1" r="7.8" fill="#000000"/>
<rect x="195.9" y="566.9" width="588.3" height="392.3" fill="none" stroke="#000" stroke-width="4.1"/>
<line x1="184" y1="632" x2="195.9" y2="632" stroke="#000" stroke-width="3.9"/>
<line x1="184" y1="763" x2="195.9" y2="763" stroke="#000" stroke-width="3.9"/>
<line x1="184" y1="894" x2="195.9" y2="894" stroke="#000" stroke-width="3.9"/>
<g transform="matrix(0.9872 0.0000 0.0000 1.0611 128.13 642.80)"><g ><text x="0.000 16.685 33.369" y="0" font-size="30" font-weight="bold"> 00</text><path transform="translate(0.000 0) scale(0.014648 -0.014648)" d="M478 0L478 1170L140 959L140 1180L493 1409L759 1409L759 0Z"/></g></g>
<g transform="matrix(0.9872 0.0000 0.0000 1.0611 144.91 773.80)"><text font-size="30" font-weight="bold" >50</text></g>
<g transform="matrix(0.9872 0.0000 0.0000 1.0611 160.70 904.80)"><text font-size="30" font-weight="bold" >0</text></g>
<line x1="244.2" y1="959" x2="244.2" y2="970.8" stroke="#000" stroke-width="3.9"/>
<line x1="342.4" y1="959" x2="342.4" y2="970.8" stroke="#000" stroke-width="3.9"/>
<line x1="440.6" y1="959" x2="440.6" y2="970.8" stroke="#000" stroke-width="3.9"/>
<line x1="538.8" y1="959" x2="538.8" y2="970.8" stroke="#000" stroke-width="3.9"/>
<line x1="637" y1="959" x2="637" y2="970.8" stroke="#000" stroke-width="3.9"/>
<line x1="735.2" y1="959" x2="735.2" y2="970.8" stroke="#000" stroke-width="3.9"/>
<g transform="matrix(0.9327 0.0000 0.0000 1.0611 231.74 1003.90)"><text font-size="30" font-weight="bold" >-4</text></g>
<g transform="matrix(0.9327 0.0000 0.0000 1.0611 330.41 1003.90)"><text font-size="30" font-weight="bold" >-3</text></g>
<g transform="matrix(0.9327 0.0000 0.0000 1.0611 428.61 1003.90)"><text font-size="30" font-weight="bold" >-2</text></g>
<g transform="matrix(0.9327 0.0000 0.0000 1.0611 527.64 1003.90)"><g ><text x="0.000 9.990" y="0" font-size="30" font-weight="bold">- </text><path transform="translate(9.990 0) scale(0.014648 -0.014648)" d="M478 0L478 1170L140 959L140 1180L493 1409L759 1409L759 0Z"/></g></g>
<g transform="matrix(0.9327 0.0000 0.0000 1.0611 629.17 1003.90)"><text font-size="30" font-weight="bold" >0</text></g>
<g transform="matrix(0.9327 0.0000 0.0000 1.0611 728.09 1003.90)"><g ><text x="0.000" y="0" font-size="30" font-weight="bold"> </text><path transform="translate(0.000 0) scale(0.014648 -0.014648)" d="M478 0L478 1170L140 959L140 1180L493 1409L759 1409L759 0Z"/></g></g>
<g transform="matrix(0.9977 0.0000 0.0000 1.0178 339.10 1044.00)"><text font-size="32" font-weight="bold" >log</text></g>
<g transform="matrix(1.0000 0.0000 0.0000 1.0780 385.80 1054.80)"><g ><text x="0.000 13.348" y="0" font-size="24" font-weight="bold"> 0</text><path transform="translate(0.000 0) scale(0.011719 -0.011719)" d="M478 0L478 1170L140 959L140 1180L493 1409L759 1409L759 0Z"/></g></g>
<g transform="matrix(0.9886 0.0000 0.0000 1.0178 421.02 1044.00)"><text font-size="32" font-weight="bold" >[Inhibitor] (<tspan font-family="'Liberation Serif', serif" font-weight="normal">μ</tspan>M)</text></g>
<g transform="matrix(0.0000 -0.9627 1.0307 0.0000 112.80 951.36)"><text font-size="33" font-weight="bold" >% SARS-CoV-2 Inhibition</text></g>
<g transform="matrix(0.9286 0.0000 0.0000 1.0046 0.54 555.80)"><text font-size="34" font-weight="bold" >B</text></g>
<line x1="833" y1="608.1" x2="876" y2="608.1" stroke="#000000" stroke-width="2.2" stroke-linecap="round"/>
<circle cx="854" cy="608.1" r="7.5" fill="#000000"/>
<g transform="matrix(1.0616 0.0000 0.0000 1.0972 897.58 618.60)"><text font-size="31" font-weight="normal" >GC376</text></g>
<line x1="833" y1="660.76" x2="876" y2="660.76" stroke="#0433ff" stroke-width="4.5" stroke-linecap="round"/>
<rect x="846" y="652.76" width="16" height="16" fill="#0433ff"/>
<g transform="matrix(1.0616 0.0000 0.0000 1.0972 897.12 671.38)"><g ><text x="0.000 22.387 43.064 60.305" y="0" font-size="31" font-weight="normal">DEL </text><path transform="translate(60.305 0) scale(0.015137 -0.015137)" d="M515 0L515 1237L197 1010L197 1180L530 1409L696 1409L696 0Z"/></g></g>
<line x1="833" y1="713.42" x2="876" y2="713.42" stroke="#ff2600" stroke-width="4.5" stroke-linecap="round"/>
<polygon points="854,705.42 862,721.42 846,721.42" fill="#ff2600"/>
<g transform="matrix(1.0616 0.0000 0.0000 1.0972 897.12 724.16)"><text font-size="31" font-weight="normal" >DEL2</text></g>
<line x1="833" y1="766.08" x2="876" y2="766.08" stroke="#00c800" stroke-width="4.5" stroke-linecap="round"/>
<polygon points="854,758.08 861.5,766.08 854,774.08 846.5,766.08" fill="#00c800"/>
<g transform="matrix(1.0616 0.0000 0.0000 1.0972 897.12 776.94)"><text font-size="31" font-weight="normal" >DEL3</text></g>
<line x1="833" y1="818.74" x2="876" y2="818.74" stroke="#a4782a" stroke-width="4.5" stroke-linecap="round"/>
<polygon points="850.38,812.24 857.62,812.24 861.25,818.74 857.62,825.24 850.38,825.24 846.75,818.74" fill="#a4782a"/>
<g transform="matrix(1.0616 0.0000 0.0000 1.0972 897.12 829.72)"><text font-size="31" font-weight="normal" >DEL7</text></g>
<line x1="833" y1="871.4" x2="876" y2="871.4" stroke="#00178f" stroke-width="4.5" stroke-linecap="round"/>
<polygon points="846,863.6 862,863.6 854,879.2" fill="#00178f"/>
<g transform="matrix(1.0616 0.0000 0.0000 1.0972 897.12 882.50)"><text font-size="31" font-weight="normal" >DEL8</text></g>
</svg>
</body></html>
